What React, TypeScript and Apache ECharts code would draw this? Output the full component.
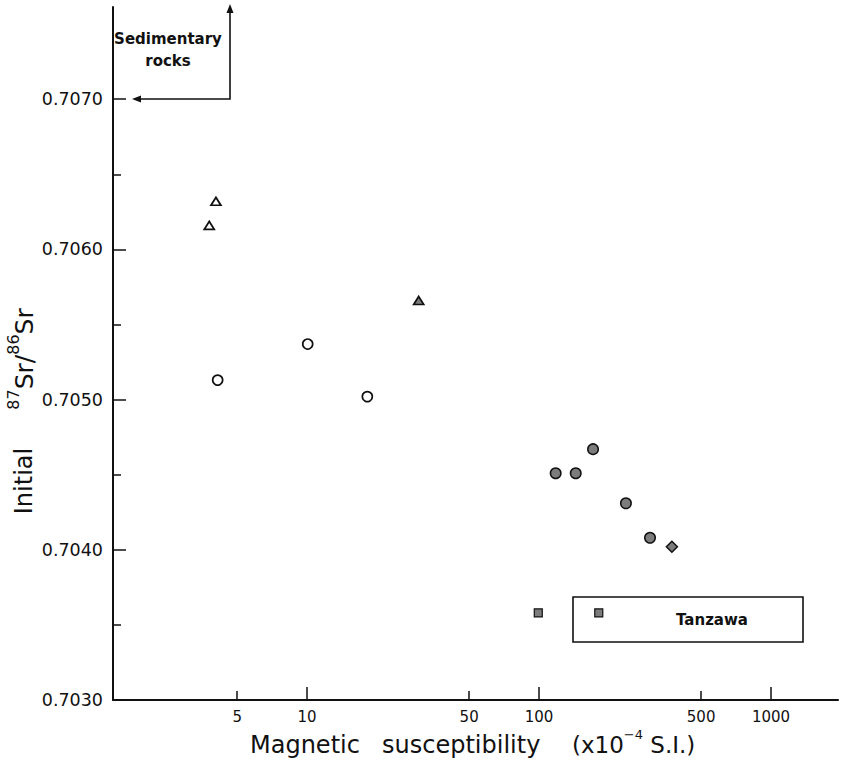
import { useEffect, useRef } from 'react';
import * as echarts from 'echarts';

// ---- data (magnetic susceptibility x10^-4 SI, initial 87Sr/86Sr) ----
const openTriangleX = [4.05, 3.79];
const openTriangleY = [0.70632, 0.70616];
const grayTriangleX = [30.3];
const grayTriangleY = [0.70566];
const openCircleX = [10.07, 4.12, 18.2];
const openCircleY = [0.70537, 0.70513, 0.70502];
const grayCircleX = [171, 118, 144, 237, 301];
const grayCircleY = [0.70467, 0.70451, 0.70451, 0.70431, 0.70408];
const diamondX = [374];
const diamondY = [0.70402];
const squareX = [99.3, 181];
const squareY = [0.70358, 0.70358];

// ---- axes ----
const xMajorTicks = [10, 100, 1000];
const xMinorTicks = [5, 50, 500];
const xTickLabels = [5, 10, 50, 100, 500, 1000];
const xRange = [1.458, 1945];
const yMajorTicks = [0.703, 0.704, 0.705, 0.706, 0.707];
const yMinorTicks = [0.7035, 0.7045, 0.7055, 0.7065];
const yRange = [0.703, 0.707614];

const FONT = '"DejaVu Sans", sans-serif';
const INK = '#111';
const GRAY = '#7c7c7c';

const lg = (v: number) => Math.log10(v);
const pairs = (xs: number[], ys: number[]) => xs.map((x, i) => [lg(x), ys[i]]);

export default function App() {
  const ref = useRef<HTMLDivElement>(null);
  useEffect(() => {
    if (!ref.current) return;
    const chart = echarts.init(ref.current, null, { renderer: 'svg' });
    const xMin = lg(xRange[0]);
    const xMax = lg(xRange[1]);
    const scatter = (
      name: string,
      xs: number[],
      ys: number[],
      symbol: string,
      size: number | number[],
      fill: string,
      bw = 1.5
    ) => ({
      name,
      type: 'scatter',
      xAxisIndex: 0,
      yAxisIndex: 0,
      symbol,
      symbolSize: size,
      data: pairs(xs, ys),
      itemStyle: { color: fill, borderColor: INK, borderWidth: bw, opacity: 1 },
      emphasis: { disabled: true },
      z: 5,
    });
    chart.setOption({
      animation: false,
      grid: { left: 113, right: 3, top: 7, bottom: 66, containLabel: false },
      xAxis: [
        {
          type: 'value',
          position: 'bottom',
          min: xMin,
          max: xMax,
          axisLine: { show: true, lineStyle: { color: INK, width: 2 } },
          axisTick: {
            show: true,
            inside: true,
            length: 13,
            lineStyle: { color: INK, width: 1.5 },
            customValues: xMajorTicks.map(lg),
          },
          axisLabel: {
            show: true,
            customValues: xTickLabels.map(lg),
            formatter: (v: number) => String(Math.round(Math.pow(10, v))),
            fontFamily: FONT,
            fontSize: 15,
            color: INK,
            margin: 9,
          },
          splitLine: { show: false },
        },
        {
          type: 'value',
          position: 'bottom',
          min: xMin,
          max: xMax,
          axisLine: { show: false },
          axisTick: {
            show: true,
            inside: true,
            length: 9,
            lineStyle: { color: INK, width: 1.5 },
            customValues: xMinorTicks.map(lg),
          },
          axisLabel: { show: false },
          splitLine: { show: false },
        },
      ],
      yAxis: [
        {
          type: 'value',
          position: 'left',
          min: yRange[0],
          max: yRange[1],
          axisLine: { show: true, lineStyle: { color: INK, width: 2 } },
          axisTick: {
            show: true,
            inside: true,
            length: 13,
            lineStyle: { color: INK, width: 1.5 },
            customValues: yMajorTicks,
          },
          axisLabel: {
            show: true,
            customValues: yMajorTicks,
            formatter: (v: number) => v.toFixed(4),
            fontFamily: FONT,
            fontSize: 17.5,
            color: INK,
            margin: 10,
          },
          splitLine: { show: false },
        },
        {
          type: 'value',
          position: 'left',
          min: yRange[0],
          max: yRange[1],
          axisLine: { show: false },
          axisTick: {
            show: true,
            inside: true,
            length: 8,
            lineStyle: { color: INK, width: 1.5 },
            customValues: yMinorTicks,
          },
          axisLabel: { show: false },
          splitLine: { show: false },
        },
      ],
      series: [
        scatter('openTriangle', openTriangleX, openTriangleY, 'triangle', [10, 8], '#fff', 1.7),
        scatter('grayTriangle', grayTriangleX, grayTriangleY, 'triangle', [10, 8], GRAY, 1.7),
        scatter('openCircle', openCircleX, openCircleY, 'circle', 10, '#fff', 1.7),
        scatter('grayCircle', grayCircleX, grayCircleY, 'circle', 10.5, GRAY),
        scatter('diamond', diamondX, diamondY, 'diamond', [11, 11], GRAY),
        scatter('square', squareX, squareY, 'rect', 8, GRAY, 1.2),
      ],
      graphic: [
        // Sedimentary rocks annotation
        {
          type: 'polyline',
          shape: { points: [[230, 10], [230, 99], [136, 99]] },
          style: { stroke: INK, lineWidth: 1.6, fill: null },
          z: 10,
        },
        {
          type: 'polygon',
          shape: { points: [[226.5, 13], [230, 4], [233.5, 13]] },
          style: { fill: INK },
          z: 10,
        },
        {
          type: 'polygon',
          shape: { points: [[141, 95.5], [132, 99], [141, 102.5]] },
          style: { fill: INK },
          z: 10,
        },
        {
          type: 'text',
          x: 168,
          y: 50,
          style: {
            text: 'Sedimentary\nrocks',
            fontFamily: FONT,
            fontSize: 15,
            fontWeight: 'bold',
            lineHeight: 22,
            fill: INK,
            align: 'center',
            verticalAlign: 'middle',
          },
          z: 10,
        },
        // Tanzawa box
        {
          type: 'rect',
          shape: { x: 573, y: 597, width: 230, height: 45 },
          style: { fill: null, stroke: INK, lineWidth: 1.6 },
          z: 10,
        },
        {
          type: 'text',
          x: 712,
          y: 620,
          style: {
            text: 'Tanzawa',
            fontFamily: FONT,
            fontSize: 15,
            fontWeight: 'bold',
            fill: INK,
            align: 'center',
            verticalAlign: 'middle',
          },
          z: 10,
        },
        // x-axis title
        {
          type: 'text',
          x: 250,
          y: 745,
          style: {
            text: 'Magnetic',
            fontFamily: FONT,
            fontSize: 24,
            fill: INK,
            align: 'left',
            verticalAlign: 'middle',
          },
        },
        {
          type: 'text',
          x: 382,
          y: 745,
          style: {
            text: 'susceptibility',
            fontFamily: FONT,
            fontSize: 24,
            fill: INK,
            align: 'left',
            verticalAlign: 'middle',
          },
        },
        {
          type: 'text',
          x: 572,
          y: 742,
          style: {
            text: '{m|(x10}{s|−4}{m| S.I.)}',
            fontFamily: FONT,
            fill: INK,
            align: 'left',
            verticalAlign: 'middle',
            rich: {
              m: { fontFamily: FONT, fontSize: 23, lineHeight: 28, verticalAlign: 'bottom', fill: INK },
              s: { fontFamily: FONT, fontSize: 13, lineHeight: 12, verticalAlign: 'top', fill: INK },
            },
          },
        },
        // y-axis title
        {
          type: 'text',
          x: 24,
          y: 481,
          rotation: Math.PI / 2,
          style: {
            text: 'Initial',
            fontFamily: FONT,
            fontSize: 24,
            fill: INK,
            align: 'center',
            verticalAlign: 'middle',
          },
        },
        {
          type: 'text',
          x: 21,
          y: 359,
          rotation: Math.PI / 2,
          style: {
            text: '{s|87}{m|Sr/}{s|86}{m|Sr}',
            fontFamily: FONT,
            fill: INK,
            align: 'center',
            verticalAlign: 'middle',
            rich: {
              m: { fontFamily: FONT, fontSize: 25, lineHeight: 31, verticalAlign: 'bottom', fill: INK },
              s: { fontFamily: FONT, fontSize: 16, lineHeight: 13, verticalAlign: 'top', fill: INK },
            },
          },
        },
      ],
    });
    return () => chart.dispose();
  }, []);
  return (
    <div
      ref={ref}
      style={{ position: 'absolute', left: 0, top: 0, width: 841, height: 766, background: '#fff' }}
    />
  );
}
